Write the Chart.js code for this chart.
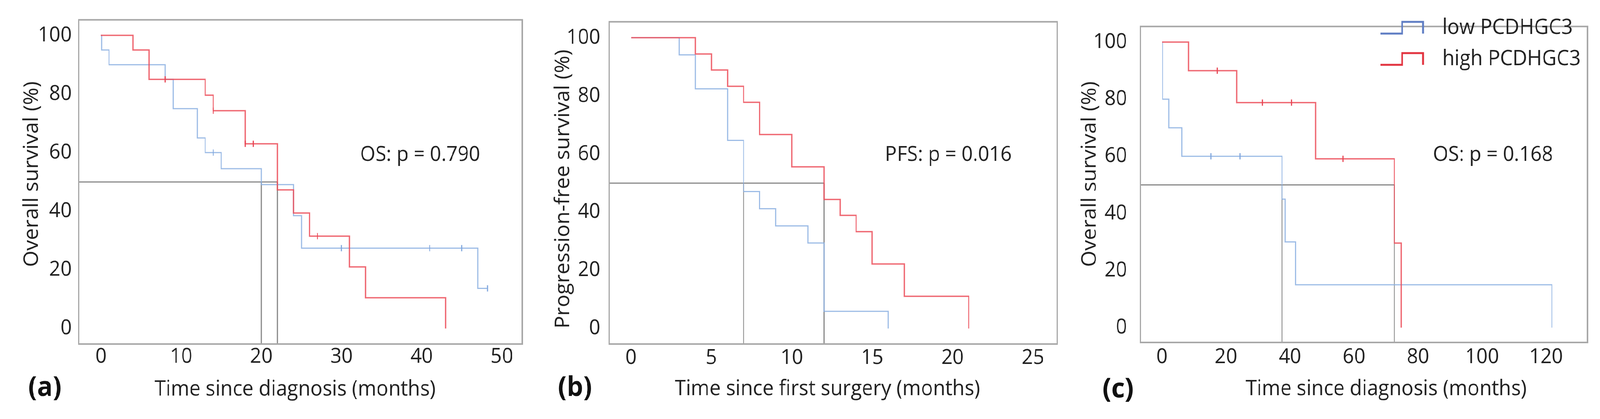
<!DOCTYPE html>
<html lang="en">
<head>
<meta charset="utf-8">
<title>PCDHGC3 - Kaplan-Meier curves</title>
<script src="https://cdn.jsdelivr.net/npm/chart.js@4.4.1/dist/chart.umd.min.js"></script>
<style>
  html, body { margin: 0; padding: 0; background: #ffffff; overflow: hidden; }
  #wrap { position: relative; width: 4310px; height: 1073px; transform-origin: 0 0; }
  .panel { position: absolute; top: 0; }
</style>
</head>
<body>
<div id="wrap">
  <canvas class="panel" id="chartA" width="1440" height="1073" style="left:0px"></canvas>
  <canvas class="panel" id="chartB" width="1420" height="1073" style="left:1440px"></canvas>
  <canvas class="panel" id="chartC" width="1450" height="1073" style="left:2860px"></canvas>
</div>
<script>
// ---- (a) overall survival, time since diagnosis ----
const lowTimeA  = [0, 0.1, 1, 8, 9, 12, 13, 15, 20, 24, 25, 47, 48.2];
const lowSurvA  = [100, 95, 90, 85, 75, 65, 60, 54.5, 49.1, 38.5, 27.4, 13.7, 13.7];
const highTimeA = [0, 4, 6, 13, 14, 18, 22, 24, 26, 31, 33, 43];
const highSurvA = [100, 95, 85, 79.6, 74.3, 63, 47.3, 39.4, 31.5, 21, 10.5, 0];
const lowCensTimeA  = [14, 30, 41, 45, 48.2];
const lowCensSurvA  = [60, 27.4, 27.4, 27.4, 13.7];
const highCensTimeA = [8, 14, 18, 19, 27];
const highCensSurvA = [85, 74.3, 63, 63, 31.5];
const mediansA = [20, 22];
const xTicksA = [0, 10, 20, 30, 40, 50];

// ---- (b) progression-free survival, time since first surgery ----
const lowTimeB  = [0, 3, 4, 6, 7, 8, 9, 11, 12, 16];
const lowSurvB  = [100, 94.1, 82.4, 64.7, 47.1, 41.2, 35.3, 29.4, 5.9, 0];
const highTimeB = [0, 4, 5, 6, 7, 8, 10, 12, 13, 14, 15, 17, 21];
const highSurvB = [100, 94.4, 88.9, 83.3, 77.8, 66.7, 55.6, 44.4, 38.9, 33.3, 22.2, 11.1, 0];
const mediansB = [7, 12];
const xTicksB = [0, 5, 10, 15, 20, 25];

// ---- (c) overall survival, time since diagnosis ----
const lowTimeC  = [0, 0.2, 2.1, 6.2, 37.5, 38.5, 41.7, 121.8];
const lowSurvC  = [100, 80, 70, 60, 45, 30, 15, 0];
const highTimeC = [0, 8.3, 23.3, 48, 72.6, 74.7];
const highSurvC = [100, 90, 78.8, 59.1, 29.6, 0];
const lowCensTimeC  = [15.3, 24.4];
const lowCensSurvC  = [60, 60];
const highCensTimeC = [17.3, 31.4, 40.5, 56.6];
const highCensSurvC = [90, 78.8, 78.8, 59.1];
const mediansC = [37.5, 72.6];
const xTicksC = [0, 20, 40, 60, 80, 100, 120];

const yTicks = [0, 20, 40, 60, 80, 100];
const groupNames = ['low PCDHGC3', 'high PCDHGC3'];

const BLUE = 'rgba(140,176,226,0.85)';
const RED = 'rgba(236,80,92,0.85)';
const GREY = '#888888';
const TEXT = '#222222';
const FONT = '"Open Sans"';

// fit the 4310x1073 figure into whatever viewport we actually get
const wrap = document.getElementById('wrap');
const vw = document.documentElement.clientWidth || window.innerWidth;
const vh = document.documentElement.clientHeight || window.innerHeight;
wrap.style.transform = 'scale(' + (vw / 4310) + ',' + (vh / 1073) + ')';

function pts(t, s) { return t.map((v, i) => ({x: v, y: s[i]})); }

// frame, titles and annotations
const panelDecor = {
    id: 'panelDecor',
    afterDraw(chart, args, o) {
        const ctx = chart.ctx, a = chart.chartArea;
        ctx.save();
        ctx.strokeStyle = '#a8a8a8';
        ctx.lineWidth = 4;
        ctx.strokeRect(a.left, a.top, a.right - a.left, a.bottom - a.top);

        ctx.fillStyle = TEXT;
        ctx.textBaseline = 'middle';
        ctx.textAlign = 'center';
        ctx.font = '54px ' + FONT;
        ctx.fillText(o.xTitle, o.xTitleAt[0], o.xTitleAt[1]);
        ctx.save();
        ctx.translate(o.yTitleAt[0], o.yTitleAt[1]);
        ctx.rotate(-Math.PI / 2);
        ctx.fillText(o.yTitle, 0, 0);
        ctx.restore();

        ctx.textAlign = 'left';
        ctx.font = '53px ' + FONT;
        ctx.fillText(o.note, o.noteAt[0], o.noteAt[1]);

        ctx.fillStyle = '#111';
        ctx.font = 'bold 70px ' + FONT;
        ctx.fillText(o.tag, o.tagAt[0], o.tagAt[1]);

        if (o.legend) {
            const L = o.legend;
            [['rgb(96,126,196)', 0], ['rgb(226,52,64)', 1]].forEach(([c, i]) => {
                const y = L.y + i * L.gap;
                ctx.strokeStyle = c;
                ctx.lineWidth = 5;
                ctx.beginPath();
                ctx.moveTo(L.x, y + 14);
                ctx.lineTo(L.x + 58, y + 14);
                ctx.lineTo(L.x + 58, y - 16);
                ctx.lineTo(L.x + 114, y - 16);
                ctx.lineTo(L.x + 114, y + 14);
                ctx.stroke();
                ctx.fillStyle = TEXT;
                ctx.font = '54px ' + FONT;
                ctx.fillText(groupNames[i], L.x + 166, y);
            });
        }
        ctx.restore();
    }
};

function makePanel(id, cfg) {
    const datasets = [
        {data: pts(cfg.lowT, cfg.lowS), borderColor: BLUE, borderWidth: 3, stepped: true, order: 2},
        {data: pts(cfg.highT, cfg.highS), borderColor: RED, borderWidth: 3.5, stepped: true, order: 1},
        // median reference lines
        {data: [{x: cfg.xMin, y: 50}, {x: Math.max(...cfg.medians), y: 50}], borderColor: GREY, borderWidth: 3, order: 5},
        {data: [{x: cfg.medians[0], y: 50}, {x: cfg.medians[0], y: cfg.yMin}], borderColor: GREY, borderWidth: 3, order: 5},
        {data: [{x: cfg.medians[1], y: 50}, {x: cfg.medians[1], y: cfg.yMin}], borderColor: GREY, borderWidth: 3, order: 5}
    ];
    if (cfg.lowCT) {
        datasets.push({data: pts(cfg.lowCT, cfg.lowCS), showLine: false, pointStyle: 'line', pointRotation: 90,
            pointRadius: 8, pointBorderWidth: 3, borderColor: 'rgb(130,168,222)', order: 0});
        datasets.push({data: pts(cfg.highCT, cfg.highCS), showLine: false, pointStyle: 'line', pointRotation: 90,
            pointRadius: 8, pointBorderWidth: 3, borderColor: 'rgb(232,70,84)', order: 0});
    }
    datasets.forEach(d => { if (d.pointRadius === undefined) d.pointRadius = 0; d.fill = false; });

    const tickFont = {family: FONT, size: 53};
    return new Chart(document.getElementById(id), {
        type: 'line',
        data: {datasets: datasets},
        plugins: [panelDecor],
        options: {
            responsive: false,
            animation: false,
            layout: {padding: cfg.padding},
            plugins: {legend: {display: false}, tooltip: {enabled: false}, panelDecor: cfg.decor},
            scales: {
                x: {
                    type: 'linear', min: cfg.xMin, max: cfg.xMax,
                    grid: {display: false, drawTicks: false}, border: {display: false},
                    afterBuildTicks: s => { s.ticks = cfg.xTicks.map(v => ({value: v})); },
                    afterFit: s => { s.height = 80; },
                    ticks: {autoSkip: false, maxRotation: 0, padding: cfg.xPad, color: TEXT, font: tickFont}
                },
                y: {
                    type: 'linear', min: cfg.yMin, max: cfg.yMax,
                    grid: {display: false, drawTicks: false}, border: {display: false},
                    afterBuildTicks: s => { s.ticks = yTicks.map(v => ({value: v})); },
                    afterFit: s => { s.width = cfg.yWidth; },
                    ticks: {autoSkip: false, padding: cfg.yPad, color: TEXT, font: tickFont}
                }
            }
        }
    });
}

makePanel('chartA', {
    lowT: lowTimeA, lowS: lowSurvA, highT: highTimeA, highS: highSurvA,
    lowCT: lowCensTimeA, lowCS: lowCensSurvA, highCT: highCensTimeA, highCS: highCensSurvA,
    medians: mediansA, xTicks: xTicksA,
    xMin: -2.78, xMax: 52.55, yMin: -5.3, yMax: 105.3,
    padding: {left: 0, top: 31, right: 33, bottom: 112}, yWidth: 212, yPad: 19, xPad: 1,
    decor: {xTitle: 'Time since diagnosis (months)', xTitleAt: [795, 998],
            yTitle: 'Overall survival (%)', yTitleAt: [87, 446],
            tag: '(a)', tagAt: [76, 994],
            note: 'OS: p = 0.790', noteAt: [970, 397]}
});

makePanel('chartB', {
    lowT: lowTimeB, lowS: lowSurvB, highT: highTimeB, highS: highSurvB,
    medians: mediansB, xTicks: xTicksB,
    xMin: -1.36, xMax: 26.51, yMin: -5.33, yMax: 105.47,
    padding: {left: 0, top: 30, right: 12, bottom: 112}, yWidth: 201, yPad: 24, xPad: 4,
    decor: {xTitle: 'Time since first surgery (months)', xTitleAt: [789, 997],
            yTitle: 'Progression-free survival (%)', yTitleAt: [78, 484],
            tag: '(b)', tagAt: [63, 994],
            note: 'PFS: p = 0.016', noteAt: [944, 397]}
});

makePanel('chartC', {
    lowT: lowTimeC, lowS: lowSurvC, highT: highTimeC, highS: highSurvC,
    lowCT: lowCensTimeC, lowCS: lowCensSurvC, highCT: highCensTimeC, highCS: highCensSurvC,
    medians: mediansC, xTicks: xTicksC,
    xMin: -6.73, xMax: 132.9, yMin: -5.2, yMax: 105.47,
    padding: {left: 0, top: 27, right: 34, bottom: 116}, yWidth: 212, yPad: 36, xPad: 6,
    decor: {xTitle: 'Time since diagnosis (months)', xTitleAt: [874, 997],
            yTitle: 'Overall survival (%)', yTitleAt: [77, 446],
            tag: '(c)', tagAt: [110, 998],
            note: 'OS: p = 0.168', noteAt: [1000, 397],
            legend: {x: 859, y: 72, gap: 80}}
});
</script>
</body>
</html>
